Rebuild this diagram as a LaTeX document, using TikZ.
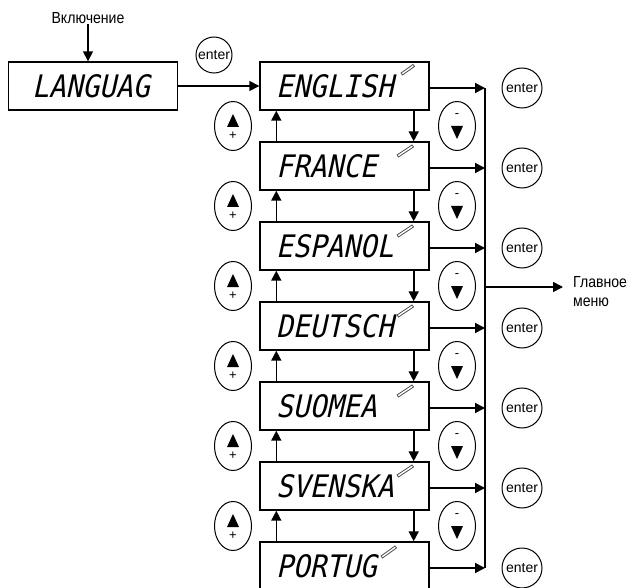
\documentclass[tikz,border=0pt]{standalone}
\usepackage{fontspec}
\setmainfont{Liberation Sans}
\newfontfamily\condfont{Liberation Sans}[FakeStretch=0.88]
\newfontfamily\lcdfont{DejaVu Sans Mono}[FakeSlant=0.22,FakeStretch=0.9]
\usetikzlibrary{arrows.meta,shapes.geometric,calc}

\begin{document}
\begin{tikzpicture}[x=1pt,y=-1pt]
		\tikzstyle{every node}+=[inner sep=0pt]
		\tikzstyle{lcd}=[draw,line width=1.4pt,minimum width=169pt,minimum height=48pt,
			font=\lcdfont\fontsize{31}{31}\selectfont]
		\tikzstyle{enterbtn}=[draw,circle,line width=1pt,minimum size=40pt,
			font=\fontsize{14}{14}\selectfont]
		\tikzstyle{pmbtn}=[draw,ellipse,line width=1pt,minimum width=37pt,minimum height=49pt]
		\tikzstyle{pmsign}=[font=\fontsize{13}{13}\selectfont]
		\tikzstyle{arr}=[line width=1.6pt,-{Triangle[length=10pt,width=10pt]}]
		\tikzstyle{lbl}=[font=\condfont\fontsize{16}{19}\selectfont]
		\tikzstyle{pencil}=[draw=black!70,line width=0.8pt]
		\useasboundingbox (0,0) rectangle (632,588);
		% power on and language
		\node [lbl] (vkl) at (88,18) {Включение};
		\node [lcd,text width=122pt] (lng) at (93,86) {LANGUAG};
		\node [enterbtn,minimum size=36pt] (en0) at (214,55) {enter};
		% menu entries
		\node [lcd,text width=137pt] (m1) at (344.5,86) {ENGLISH};
		\node [lcd,text width=137pt] (m2) at (344.5,166) {FRANCE};
		\node [lcd,text width=137pt] (m3) at (344.5,246) {ESPANOL};
		\node [lcd,text width=137pt] (m4) at (344.5,326) {DEUTSCH};
		\node [lcd,text width=137pt] (m5) at (344.5,406) {SUOMEA};
		\node [lcd,text width=137pt] (m6) at (344.5,486) {SVENSKA};
		\node [lcd,text width=137pt] (m7) at (344.5,566) {PORTUG};
		% pencils
		\draw [pencil] (401,73) -- (413,64.5) -- (414.5,66.5) -- (402.5,75) -- cycle;
		\draw [pencil] (397,155) -- (412,145) -- (413.5,147) -- (398.5,157) -- cycle;
		\draw [pencil] (397,235) -- (412,225) -- (413.5,227) -- (398.5,237) -- cycle;
		\draw [pencil] (397,315) -- (412,305) -- (413.5,307) -- (398.5,317) -- cycle;
		\draw [pencil] (397,395) -- (412,385) -- (413.5,387) -- (398.5,397) -- cycle;
		\draw [pencil] (397,475) -- (412,465) -- (413.5,467) -- (398.5,477) -- cycle;
		\draw [pencil] (381,556) -- (395,546) -- (396.5,548) -- (382.5,558) -- cycle;
		% enter buttons
		\node [enterbtn] (en1) at (522,88) {enter};
		\node [enterbtn] (en2) at (522,168) {enter};
		\node [enterbtn] (en3) at (522,248) {enter};
		\node [enterbtn] (en4) at (522,328) {enter};
		\node [enterbtn] (en5) at (522,408) {enter};
		\node [enterbtn] (en6) at (522,488) {enter};
		\node [enterbtn] (en7) at (522,568) {enter};
		% up buttons
		\node [pmbtn] (up1) at (233,126) {};
		\node [pmbtn] (up2) at (233,206) {};
		\node [pmbtn] (up3) at (233,286) {};
		\node [pmbtn] (up4) at (233,366) {};
		\node [pmbtn] (up5) at (233,446) {};
		\node [pmbtn] (up6) at (233,526) {};
		\fill ($(up1)+(0,-12)$) -- ++(6,13) -- ++(-12,0) -- cycle;
		\fill ($(up2)+(0,-12)$) -- ++(6,13) -- ++(-12,0) -- cycle;
		\fill ($(up3)+(0,-12)$) -- ++(6,13) -- ++(-12,0) -- cycle;
		\fill ($(up4)+(0,-12)$) -- ++(6,13) -- ++(-12,0) -- cycle;
		\fill ($(up5)+(0,-12)$) -- ++(6,13) -- ++(-12,0) -- cycle;
		\fill ($(up6)+(0,-12)$) -- ++(6,13) -- ++(-12,0) -- cycle;
		\node [pmsign] (up1p) at ($(up1)+(0,10)$) {+};
		\node [pmsign] (up2p) at ($(up2)+(0,10)$) {+};
		\node [pmsign] (up3p) at ($(up3)+(0,10)$) {+};
		\node [pmsign] (up4p) at ($(up4)+(0,10)$) {+};
		\node [pmsign] (up5p) at ($(up5)+(0,10)$) {+};
		\node [pmsign] (up6p) at ($(up6)+(0,10)$) {+};
		% down buttons
		\node [pmbtn] (dn1) at (457,126) {};
		\node [pmbtn] (dn2) at (457,206) {};
		\node [pmbtn] (dn3) at (457,286) {};
		\node [pmbtn] (dn4) at (457,366) {};
		\node [pmbtn] (dn5) at (457,446) {};
		\node [pmbtn] (dn6) at (457,526) {};
		\fill ($(dn1)+(0,13)$) -- ++(6,-13) -- ++(-12,0) -- cycle;
		\fill ($(dn2)+(0,13)$) -- ++(6,-13) -- ++(-12,0) -- cycle;
		\fill ($(dn3)+(0,13)$) -- ++(6,-13) -- ++(-12,0) -- cycle;
		\fill ($(dn4)+(0,13)$) -- ++(6,-13) -- ++(-12,0) -- cycle;
		\fill ($(dn5)+(0,13)$) -- ++(6,-13) -- ++(-12,0) -- cycle;
		\fill ($(dn6)+(0,13)$) -- ++(6,-13) -- ++(-12,0) -- cycle;
		\node [pmsign] (dn1m) at ($(dn1)+(0,-10)$) {-};
		\node [pmsign] (dn2m) at ($(dn2)+(0,-10)$) {-};
		\node [pmsign] (dn3m) at ($(dn3)+(0,-10)$) {-};
		\node [pmsign] (dn4m) at ($(dn4)+(0,-10)$) {-};
		\node [pmsign] (dn5m) at ($(dn5)+(0,-10)$) {-};
		\node [pmsign] (dn6m) at ($(dn6)+(0,-10)$) {-};
		% connectors
		\draw [arr] (vkl.south) -- (vkl.south |- lng.north);
		\draw [arr] (lng.east) -- (m1.west);
		\draw [arr] ([xshift=17pt]m2.north west) -- ([xshift=17pt]m1.south west);
		\draw [arr] ([xshift=17pt]m3.north west) -- ([xshift=17pt]m2.south west);
		\draw [arr] ([xshift=17pt]m4.north west) -- ([xshift=17pt]m3.south west);
		\draw [arr] ([xshift=17pt]m5.north west) -- ([xshift=17pt]m4.south west);
		\draw [arr] ([xshift=17pt]m6.north west) -- ([xshift=17pt]m5.south west);
		\draw [arr] ([xshift=17pt]m7.north west) -- ([xshift=17pt]m6.south west);
		\draw [arr] ([xshift=-16pt]m1.south east) -- ([xshift=-16pt]m2.north east);
		\draw [arr] ([xshift=-16pt]m2.south east) -- ([xshift=-16pt]m3.north east);
		\draw [arr] ([xshift=-16pt]m3.south east) -- ([xshift=-16pt]m4.north east);
		\draw [arr] ([xshift=-16pt]m4.south east) -- ([xshift=-16pt]m5.north east);
		\draw [arr] ([xshift=-16pt]m5.south east) -- ([xshift=-16pt]m6.north east);
		\draw [arr] ([xshift=-16pt]m6.south east) -- ([xshift=-16pt]m7.north east);
		% bus to main menu
		\coordinate (bus1) at (485,88);
		\coordinate (bus7) at (485,568);
		\coordinate (busm) at (485,287);
		\draw [arr] ([yshift=-2pt]m1.east) -- (bus1);
		\draw [arr] ([yshift=-2pt]m2.east) -- (bus1 |- 0,168);
		\draw [arr] ([yshift=-2pt]m3.east) -- (bus1 |- 0,248);
		\draw [arr] ([yshift=-2pt]m4.east) -- (bus1 |- 0,328);
		\draw [arr] ([yshift=-2pt]m5.east) -- (bus1 |- 0,408);
		\draw [arr] ([yshift=-2pt]m6.east) -- (bus1 |- 0,488);
		\draw [arr] ([yshift=-2pt]m7.east) -- (bus7);
		\draw [line width=1.6pt] (bus1) -- (bus7);
		\node [lbl,anchor=west,align=left] (menu) at (573,292) {Главное\\меню};
		\draw [arr,shorten >=10pt] (busm) -- (menu.west |- busm);
	\end{tikzpicture}
\end{document}
